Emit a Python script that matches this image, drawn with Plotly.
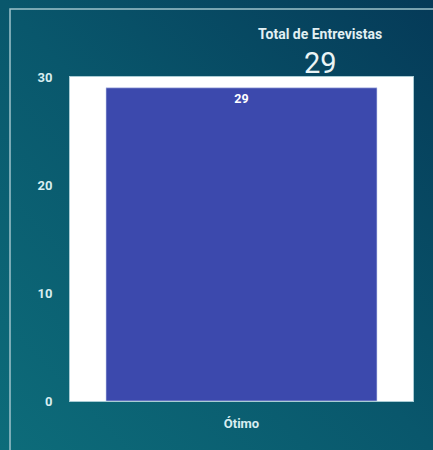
import base64
import plotly.graph_objects as go

categories = ["Ótimo"]
values = [29]
total_label = "Total de Entrevistas"
total_value = 29
y_ticks = [0, 10, 20, 30]

W, H = 433, 450
L, R, T, B = 70, 20, 77, 49

svg = f'''<svg xmlns="http://www.w3.org/2000/svg" width="{W}" height="{H}" viewBox="0 0 {W} {H}" preserveAspectRatio="none">
<defs><linearGradient id="g" x1="0" y1="1" x2="1" y2="0">
<stop offset="0" stop-color="#0d6c7a"/>
<stop offset="0.5" stop-color="#09576c"/>
<stop offset="1" stop-color="#053a58"/>
</linearGradient></defs>
<rect width="{W}" height="{H}" fill="url(#g)"/>
</svg>'''
bg_uri = "data:image/svg+xml;base64," + base64.b64encode(svg.encode()).decode()

pw, ph = W - L - R, H - T - B
def px_x(x):
    return (x - L) / pw
def px_y(y):
    return (H - B - y) / ph

fig = go.Figure()
fig.add_trace(go.Bar(
    x=categories, y=values,
    marker=dict(color="#3c49ad", line=dict(color="rgba(200,210,240,0.6)", width=1)),
    text=[str(v) for v in values], textposition="inside", insidetextanchor="end",
    textfont=dict(color="white", size=12.5, family="Roboto", weight="bold"),
    width=0.79,
))

font_col = "#d8edf0"
fig.update_layout(
    width=W, height=H,
    margin=dict(l=L, r=R, t=T, b=B),
    paper_bgcolor="#09576c", plot_bgcolor="white",
    showlegend=False,
    bargap=0.21,
    images=[dict(source=bg_uri, xref="paper", yref="paper",
                 x=px_x(0), y=px_y(0), sizex=W / pw, sizey=H / ph,
                 xanchor="left", yanchor="top", sizing="stretch", layer="below")],
    xaxis=dict(showgrid=False, zeroline=False, showline=True, mirror=True,
               linecolor="#a9ccd4", linewidth=1, ticks="", ticklabelstandoff=10,
               tickfont=dict(color=font_col, size=13, family="Roboto", weight="bold")),
    yaxis=dict(range=[0, 30], tickvals=y_ticks, showgrid=False, zeroline=False,
               showline=True, mirror=True, linecolor="#a9ccd4", linewidth=1,
               ticks="", ticklabelstandoff=14,
               tickfont=dict(color=font_col, size=13, family="Roboto", weight="bold")),
    shapes=[
        dict(type="rect", xref="paper", yref="paper", layer="below",
             x0=0, y0=0, x1=1, y1=1, line=dict(width=0), fillcolor="white"),
        dict(type="rect", xref="paper", yref="paper", layer="above",
             x0=px_x(10), y0=px_y(9), x1=px_x(W + 20), y1=px_y(H + 20),
             line=dict(color="#9fc3cb", width=1.5), fillcolor="rgba(0,0,0,0)"),
    ],
    annotations=[
        dict(text=total_label, xref="paper", yref="paper", x=px_x(320), y=px_y(34),
             showarrow=False, xanchor="center", yanchor="middle",
             font=dict(color="#e2f0f3", size=14, family="Roboto", weight="bold")),
        dict(text=str(total_value), xref="paper", yref="paper", x=px_x(320), y=px_y(63),
             showarrow=False, xanchor="center", yanchor="middle",
             font=dict(color="#eaf4f6", size=29, family="Roboto")),
    ],
)

fig.write_html("out.html", config={"displayModeBar": False},
               post_script="document.body.style.margin='0';document.body.style.overflow='hidden';")
